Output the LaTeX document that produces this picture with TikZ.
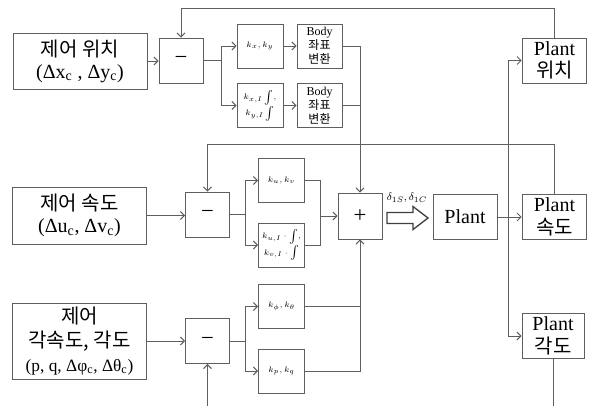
\documentclass[tikz,border=0pt]{standalone}
\usepackage{fontspec}
\setmainfont{Liberation Serif}
\newfontfamily\krfont{Noto Sans CJK KR}
\usetikzlibrary{arrows.meta}
\definecolor{lngray}{RGB}{95,95,95}

\begin{document}
\begin{tikzpicture}[
  x=0.75pt, y=-0.75pt,
  line width=0.7pt, draw=lngray,
  every node/.style={inner sep=0pt, align=center},
  arr/.style={draw=lngray, -{Straight Barb[length=3pt,width=6pt]}},
  wire/.style={draw=lngray},
  inbox/.style={draw=lngray, minimum width=100.5pt, font=\fontsize{15}{16.5}\selectfont},
  opbox/.style={draw=lngray, minimum width=33pt, minimum height=33.75pt, font=\fontsize{17}{17}\selectfont},
  gainbox/.style={draw=lngray, minimum width=34.5pt, minimum height=33pt, font=\fontsize{6}{10}\selectfont},
  bodybox/.style={draw=lngray, minimum width=33.75pt, minimum height=33pt, font=\fontsize{9}{10.5}\selectfont},
  plantbox/.style={draw=lngray, minimum width=48.5pt, minimum height=33.75pt, font=\fontsize{15}{17}\selectfont},
]
  \useasboundingbox (0,0) rectangle (592,406);

  % Command inputs
  \node[inbox,minimum height=42pt] (pos) at (80,61)
    {{\krfont 제어 위치}\\(Δx\textsubscript{c} , Δy\textsubscript{c})};
  \node[inbox,minimum height=42.75pt] (vel) at (79.5,215.5)
    {{\krfont 제어 속도}\\(Δu\textsubscript{c}, Δv\textsubscript{c})};
  \node[inbox,minimum height=57pt,font=\fontsize{15}{18}\selectfont] (ang) at (79.5,341)
    {{\krfont 제어}\\{\krfont 각속도, 각도}\\{\fontsize{13}{18}\selectfont (p, q, Δφ\textsubscript{c}, Δθ\textsubscript{c})}};

  % Error nodes
  \node[opbox] (m1) at (181,60.5) {−};
  \node[opbox] (m2) at (207.5,214.5) {−};
  \node[opbox] (m3) at (207.5,341) {−};

  % Gains
  \node[gainbox] (g1) at (260,46) {$k_x, k_y$};
  \node[gainbox] (g2) at (260,105.5) {$k_{x,I}\int,$\\$k_{y,I}\int$};
  \node[gainbox] (g3) at (281.5,180.5) {$k_u, k_v$};
  \node[gainbox] (g4) at (281.5,245) {$k_{u,I}\cdot\int,$\\$k_{v,I}\cdot\int$};
  \node[gainbox] (g5) at (281.5,306.5) {$k_\phi, k_\theta$};
  \node[gainbox] (g6) at (281.5,371) {$k_p, k_q$};

  % Body frame transform
  \node[bodybox] (b1) at (319.5,46) {Body\\{\krfont 좌표}\\{\krfont 변환}};
  \node[bodybox] (b2) at (319.5,105.5) {Body\\{\krfont 좌표}\\{\krfont 변환}};

  % Sum and plant
  \node[opbox,minimum height=34.5pt] (plus) at (360,216) {+};
  \node[plantbox,minimum width=48pt] (plant) at (465,217) {Plant};
  \node[font=\fontsize{8}{8}\selectfont] (dlab) at (407,198) {$\delta_{1S},\delta_{1C}$};
  \draw[black!75,line width=1pt,fill=white]
    (387,212.5) -- (413,212.5) -- (413,206.5) -- (428,218) -- (413,229.5) -- (413,223.5) -- (387,223.5) -- cycle;

  % Plant outputs
  \node[plantbox] (ppos) at (554.5,60.5) {Plant\\{\krfont 위치}};
  \node[plantbox] (pvel) at (554.5,217) {Plant\\{\krfont 속도}};
  \node[plantbox,minimum width=46.5pt] (pang) at (553,336) {Plant\\{\krfont 각도}};

  \coordinate (j1) at (221,60.5);
  \coordinate (j2) at (245,214.5);
  \coordinate (j3) at (245,341);
  \coordinate (j4) at (320,216);
  \coordinate (jb) at (508,217);
  \coordinate (fb1) at (0,8);
  \coordinate (fb2) at (0,144);
  \coordinate (bot) at (0,406);

  % Position loop
  \draw[arr] (pos.east) -- (pos.east -| m1.west);
  \draw[wire] (m1.east) -- (j1);
  \draw[arr] (j1) |- (g1.west);
  \draw[arr] (j1) |- (g2.west);
  \draw[arr] (g1) -- (b1);
  \draw[arr] (g2) -- (b2);
  \draw[arr] (b1.east) -| (plus.north);
  \draw[wire] (b2.east) -- (b2.east -| plus.north);

  % Velocity loop
  \draw[arr] (vel.east) -- (vel.east -| m2.west);
  \draw[wire] (m2.east) -- (j2);
  \draw[arr] (j2) |- (g3.west);
  \draw[arr] (j2) |- (g4.west);
  \draw[wire] (g3.east) -| (j4);
  \draw[wire] (g4.east) -| (j4);
  \draw[arr] (j4) -- (plus.west);

  % Attitude loop
  \draw[arr] (ang.east) -- (ang.east -| m3.west);
  \draw[wire] (m3.east) -- (j3);
  \draw[arr] (j3) |- (g5.west);
  \draw[arr] (j3) |- (g6.west);
  \draw[wire] (g5.east) -- (g5.east -| plus.south);
  \draw[arr] (g6.east) -| (plus.south);

  % Plant to outputs
  \draw[arr] (plant.east) -- (pvel.west);
  \draw[arr] (jb) |- (ppos.west);
  \draw[arr] (jb) |- (pang.west);

  % Feedback
  \draw[arr] (ppos.north) -- (ppos.north |- fb1) -| (m1.north);
  \draw[arr] (pvel.north) -- (pvel.north |- fb2) -| (m2.north);
  \draw[wire] (pang.south) -- (pang.south |- bot);
  \draw[arr] (m3.south |- bot) -- (m3.south);
\end{tikzpicture}
\end{document}
